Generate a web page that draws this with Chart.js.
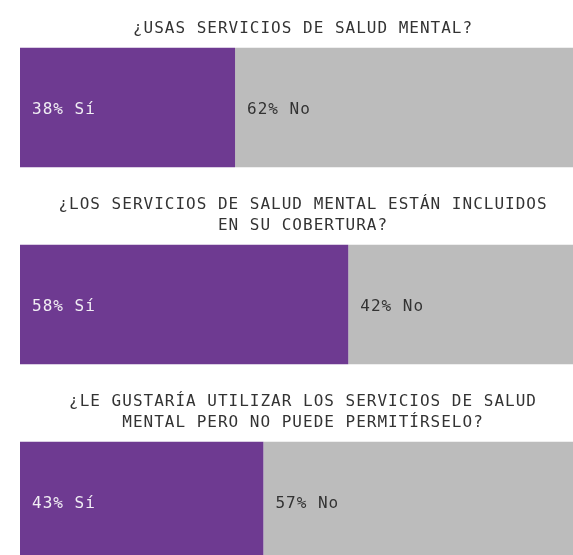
<!DOCTYPE html>
<html><head><meta charset="utf-8">
<script src="https://cdn.jsdelivr.net/npm/chart.js@4"></script>
<style>html,body{margin:0;padding:0;overflow:hidden;background:#fff;width:573px;height:555px}canvas{display:block}</style>
</head><body><canvas id="c" width="586" height="600"></canvas>
<script>
const questions = [
  ["¿USAS SERVICIOS DE SALUD MENTAL?"],
  ["¿LOS SERVICIOS DE SALUD MENTAL ESTÁN INCLUIDOS", "EN SU COBERTURA?"],
  ["¿LE GUSTARÍA UTILIZAR LOS SERVICIOS DE SALUD", "MENTAL PERO NO PUEDE PERMITÍRSELO?"]
];
const categories = ["Q1", "Q2", "Q3"];
const seriesNames = ["Sí", "No"];
const yesValues = [38, 58, 43];
const noValues = [62, 42, 57];

const FONT = '16px "DejaVu Sans Mono", monospace';

const textPlugin = {
  id: 'texts',
  afterDatasetsDraw(chart) {
    const ctx = chart.ctx;
    ctx.save();
    ctx.font = FONT;
    if ('letterSpacing' in ctx) ctx.letterSpacing = '1px';
    ctx.textBaseline = 'alphabetic';
    const colors = ['#f1eef4', '#333333'];
    chart.data.datasets.forEach((ds, di) => {
      const meta = chart.getDatasetMeta(di);
      meta.data.forEach((el, i) => {
        ctx.fillStyle = colors[di];
        ctx.textAlign = 'left';
        ctx.fillText(ds.data[i] + '% ' + ds.label, Math.min(el.base, el.x) + 12, el.y + 6);
      });
    });
    const meta0 = chart.getDatasetMeta(0);
    const cx = (chart.chartArea.left + chart.chartArea.right) / 2;
    ctx.fillStyle = '#333333';
    ctx.textAlign = 'center';
    meta0.data.forEach((el, i) => {
      const top = el.y - el.height / 2;
      const lines = questions[i];
      lines.forEach((line, li) => {
        const y = top - 14.5 - (lines.length - 1 - li) * 21.5;
        ctx.fillText(line, cx, y);
      });
    });
    ctx.restore();
  }
};

new Chart(document.getElementById('c'), {
  type: 'bar',
  data: {
    labels: categories,
    datasets: [
      { label: seriesNames[0], data: yesValues, backgroundColor: '#6e3a91', borderWidth: 0, barPercentage: 0.607, categoryPercentage: 1 },
      { label: seriesNames[1], data: noValues, backgroundColor: '#bcbcbc', borderWidth: 0, barPercentage: 0.607, categoryPercentage: 1 }
    ]
  },
  options: {
    indexAxis: 'y',
    responsive: false,
    animation: false,
    layout: { padding: { left: 20, top: 9, right: 0, bottom: 0 } },
    plugins: { legend: { display: false }, tooltip: { enabled: false } },
    scales: {
      x: { type: 'linear', min: 0, max: 100, stacked: true, display: false },
      y: { type: 'category', stacked: true, display: false }
    }
  },
  plugins: [textPlugin]
});
</script>
</body></html>
